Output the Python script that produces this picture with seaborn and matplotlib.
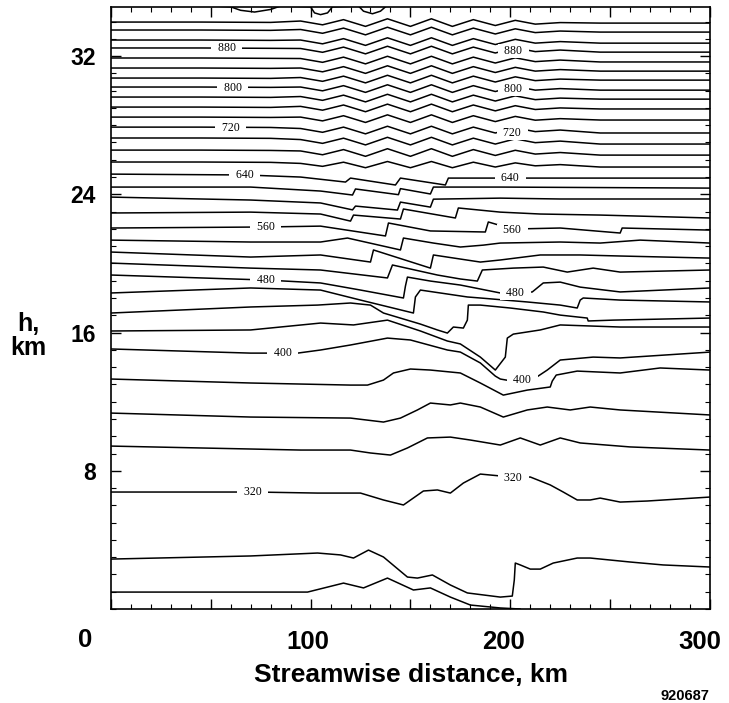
# -*- coding: utf-8 -*-
"""
Isentropes over a streamwise cross-section (potential temperature contours, K)
"""

import pandas as pd
import seaborn as sns
import matplotlib.pyplot as plt
import matplotlib.transforms as mtransforms
from matplotlib.ticker import MultipleLocator

# -------------------------------------------------------
# STEP 1: Data  (x = streamwise km, h = height km)
# -------------------------------------------------------

# shared x points of the wavy upper isentropes
x_upper = [0, 45, 80, 95, 106, 116.5, 127.5, 138.5, 150, 160.5, 171, 181.5,
           192.5, 202.5, 212.5, 225, 245, 300]

h_940 = [33.97, 33.97, 33.95, 34.03, 33.81, 34.11, 33.72, 34.16, 33.72, 34.16, 33.72, 34.11, 33.77, 34.07, 33.85, 33.94, 33.91, 33.91]
h_920 = [33.51, 33.51, 33.49, 33.54, 33.32, 33.62, 33.23, 33.67, 33.23, 33.67, 33.23, 33.62, 33.28, 33.58, 33.36, 33.45, 33.39, 33.39]
h_900 = [32.93, 32.93, 32.91, 32.93, 32.71, 33.01, 32.62, 33.06, 32.62, 33.06, 32.62, 33.01, 32.67, 32.97, 32.75, 32.84, 32.75, 32.75]
h_880 = [32.47, 32.47, 32.45, 32.44, 32.22, 32.52, 32.13, 32.57, 32.13, 32.57, 32.13, 32.52, 32.18, 32.48, 32.26, 32.35, 32.23, 32.23]
h_860 = [31.89, 31.89, 31.87, 31.86, 31.64, 31.94, 31.55, 31.99, 31.55, 31.99, 31.55, 31.94, 31.60, 31.90, 31.68, 31.77, 31.66, 31.66]
h_840 = [31.31, 31.31, 31.29, 31.31, 31.09, 31.39, 31.00, 31.44, 31.00, 31.44, 31.00, 31.39, 31.05, 31.35, 31.13, 31.22, 31.13, 31.13]
h_820 = [30.73, 30.73, 30.71, 30.76, 30.54, 30.84, 30.45, 30.89, 30.45, 30.89, 30.45, 30.84, 30.50, 30.80, 30.58, 30.67, 30.61, 30.61]
h_800 = [30.21, 30.21, 30.19, 30.21, 29.99, 30.29, 29.90, 30.34, 29.90, 30.34, 29.90, 30.29, 29.95, 30.25, 30.03, 30.12, 30.03, 30.03]
h_780 = [29.63, 29.63, 29.61, 29.66, 29.44, 29.74, 29.35, 29.79, 29.35, 29.79, 29.35, 29.74, 29.40, 29.70, 29.48, 29.57, 29.51, 29.51]
h_760 = [29.05, 29.05, 29.03, 29.09, 28.87, 29.17, 28.78, 29.22, 28.78, 29.22, 28.78, 29.17, 28.83, 29.13, 28.91, 29.00, 28.94, 28.94]
h_740 = [28.47, 28.47, 28.45, 28.47, 28.25, 28.55, 28.16, 28.60, 28.16, 28.60, 28.16, 28.55, 28.21, 28.51, 28.29, 28.38, 28.30, 28.30]
h_720 = [27.89, 27.89, 27.87, 27.81, 27.59, 27.89, 27.50, 27.94, 27.50, 27.94, 27.50, 27.89, 27.55, 27.85, 27.63, 27.72, 27.55, 27.55]
h_700 = [27.26, 27.26, 27.24, 27.17, 26.95, 27.25, 26.86, 27.30, 26.86, 27.30, 26.86, 27.25, 26.91, 27.21, 26.99, 27.08, 26.91, 26.91]
h_680 = [26.56, 26.56, 26.54, 26.51, 26.29, 26.59, 26.20, 26.64, 26.20, 26.64, 26.20, 26.59, 26.25, 26.55, 26.33, 26.42, 26.27, 26.27]
h_660 = [25.87, 25.87, 25.85, 25.79, 25.62, 25.86, 25.54, 25.90, 25.54, 25.90, 25.54, 25.86, 25.58, 25.82, 25.65, 25.72, 25.58, 25.58]

# top isentrope, only its troughs dip into the frame
x_960 = [0, 60, 65, 72, 80, 85, 100, 102, 105, 108.5, 111, 124, 126.5, 131, 135, 138, 300]
h_960 = [35.2, 34.85, 34.65, 34.55, 34.7, 34.9, 34.85, 34.5, 34.4, 34.5, 34.85, 34.9, 34.6, 34.45, 34.6, 34.9, 35.2]

# stepped / overturning isentropes
x_640 = [0, 67.5, 95, 117.5, 120, 142.5, 145, 167.5, 169, 200, 300]
h_640 = [25.17, 25.12, 25.00, 24.71, 24.94, 24.54, 24.94, 24.54, 24.94, 24.94, 24.94]

x_620 = [0, 70, 105, 121, 122.5, 144, 145, 160, 161.5, 195, 300]
h_620 = [24.42, 24.42, 24.19, 23.96, 24.31, 23.98, 24.33, 24.02, 24.42, 24.42, 24.36]

x_600 = [0, 70, 105, 121, 122.5, 143.5, 145, 160, 161.5, 195, 225, 300]
h_600 = [23.84, 23.67, 23.50, 23.10, 23.32, 23.09, 23.55, 23.26, 23.72, 23.78, 23.73, 23.73]

x_580 = [0, 70, 105, 120, 121.5, 145, 146.5, 172.5, 174, 195, 215, 245, 300]
h_580 = [22.92, 22.97, 22.86, 22.45, 22.80, 22.57, 23.15, 22.63, 23.21, 22.97, 22.86, 22.80, 22.63]

x_560 = [0, 77.5, 105, 137.5, 139, 160, 187.5, 189, 201, 225, 255, 256, 300]
h_560 = [22.05, 22.11, 22.16, 21.59, 22.34, 21.88, 21.82, 22.40, 21.99, 22.05, 21.76, 22.05, 21.93]

x_540 = [0, 70, 105, 118.5, 145, 146.5, 161.5, 175, 186.5, 195, 225, 245, 265, 300]
h_540 = [21.35, 21.24, 21.24, 21.47, 20.78, 21.47, 21.18, 20.95, 21.06, 21.18, 21.24, 21.18, 21.35, 21.18]

x_520 = [0, 70, 105, 130, 131.5, 160, 161.5, 185, 195, 215, 235, 255, 300]
h_520 = [20.66, 20.37, 20.49, 20.08, 20.78, 19.73, 20.49, 20.08, 20.20, 20.49, 20.49, 20.43, 20.31]

x_500 = [0, 70, 105, 138.5, 141, 163.5, 175, 183.5, 186, 201.5, 216.5, 228.5, 241.5, 255, 300]
h_500 = [20.02, 19.73, 19.62, 19.16, 19.91, 19.33, 19.10, 18.98, 19.62, 19.73, 19.79, 19.50, 19.73, 19.50, 19.62]

x_480 = [0, 77.5, 105, 125, 146.5, 147.5, 148.5, 160, 175, 185, 195, 202.5, 211, 216.5, 225, 235, 255, 300]
h_480 = [19.33, 19.04, 18.87, 18.46, 18.00, 18.69, 19.21, 18.98, 18.75, 18.52, 18.29, 18.29, 18.35, 18.87, 18.92, 18.63, 18.35, 18.58]

x_460 = [0, 70, 105, 125, 151.5, 152.5, 155, 178.5, 185, 208.5, 225, 233.5, 235, 236.5, 255, 300]
h_460 = [18.29, 18.58, 18.46, 17.88, 17.13, 18.06, 18.46, 18.06, 18.00, 17.77, 17.59, 17.42, 17.88, 18.00, 17.88, 17.77]

x_440 = [0, 70, 103.5, 120, 130, 136.5, 155, 163.5, 168.5, 171.5, 176.5, 178.5, 179, 185, 200, 216.5, 225, 238.5, 239, 251.5, 300]
h_440 = [17.13, 17.48, 17.59, 17.71, 17.59, 17.13, 16.49, 16.15, 15.97, 16.32, 16.26, 16.72, 17.59, 17.59, 17.42, 17.19, 17.01, 16.84, 16.67, 16.72, 16.84]

x_420 = [0, 70, 105, 121.5, 138.5, 155, 168.5, 175, 185, 192.5, 197.5, 198.5, 201.5, 215, 225, 255, 300]
h_420 = [16.09, 16.15, 16.55, 16.44, 16.72, 16.09, 15.51, 15.34, 14.58, 13.83, 14.58, 15.68, 15.91, 16.15, 16.44, 16.32, 16.32]

x_400 = [0, 70, 93.5, 105, 120, 138.5, 150, 168.5, 175, 185, 192.5, 195, 201, 212.5, 218.5, 225, 241.5, 255, 300]
h_400 = [15.05, 14.81, 14.81, 14.99, 15.28, 15.68, 15.57, 14.99, 14.87, 14.24, 13.48, 13.31, 13.19, 13.37, 13.83, 14.41, 14.58, 14.53, 14.87]

x_380 = [0, 70, 120, 128.5, 136.5, 141.5, 150, 160, 175, 185, 196.5, 208.5, 220, 221, 223, 233.5, 255, 275, 300]
h_380 = [13.31, 13.08, 12.96, 12.96, 13.25, 13.66, 13.89, 13.83, 13.66, 13.08, 12.38, 12.67, 12.85, 13.19, 13.54, 13.77, 13.66, 13.95, 13.83]

x_360 = [0, 70, 120, 136.5, 145, 153.5, 160, 170, 175, 185, 196.5, 208.5, 218.5, 230, 240, 255, 300]
h_360 = [11.34, 11.11, 11.05, 10.82, 11.05, 11.52, 11.92, 11.81, 11.92, 11.69, 11.11, 11.52, 11.69, 11.52, 11.69, 11.52, 11.23]

x_340 = [0, 45, 95, 120, 130, 140, 148.5, 158.5, 170, 180, 195, 205, 215, 225, 235, 260, 300]
h_340 = [9.43, 9.32, 9.20, 9.20, 9.03, 8.91, 9.32, 9.90, 9.95, 9.78, 9.49, 9.90, 9.49, 9.90, 9.61, 9.38, 9.20]

x_320 = [0, 72.5, 103.5, 125, 136.5, 146.5, 156.5, 163.5, 170, 176.5, 185, 195, 201.5, 210, 220,
         226.5, 233.5, 240, 245, 255, 268.5, 285, 300]
h_320 = [6.77, 6.77, 6.71, 6.71, 6.31, 6.02, 6.83, 6.89, 6.71, 7.29, 7.81, 7.70, 7.58, 7.64, 7.18,
         6.77, 6.31, 6.31, 6.42, 6.19, 6.25, 6.37, 6.48]

x_300 = [0, 70, 103.5, 115, 121.5, 129, 136.5, 148.5, 153.5, 161, 170, 178.5, 195, 201, 202, 202.5,
         205, 210, 215, 221.5, 233.5, 240, 260, 276.5, 300]
h_300 = [2.89, 3.07, 3.24, 3.13, 2.95, 3.41, 3.01, 1.85, 1.79, 1.97, 1.39, 0.93, 0.69, 0.75, 1.68, 2.66,
         2.55, 2.31, 2.31, 2.66, 2.95, 2.95, 2.72, 2.55, 2.43]

x_280 = [0, 98.5, 116.5, 126.5, 138.5, 151.5, 160, 170, 180, 195, 205]
h_280 = [0.98, 0.98, 1.50, 1.22, 1.79, 1.10, 1.22, 0.69, 0.23, 0.06, 0.0]

# inline contour labels
label_levels = [880, 800, 720, 640, 560, 480, 400, 320]
label_x_left = [58, 61, 60, 67, 77.5, 77.5, 86, 71]
label_h_left = [32.47, 30.15, 27.86, 25.12, 22.11, 19.04, 14.79, 6.77]
label_x_right = [201.5, 201.5, 201, 200, 201, 202.5, 206, 201.5]
label_h_right = [32.29, 30.09, 27.55, 24.94, 21.93, 18.29, 13.25, 7.58]

# -------------------------------------------------------
# STEP 2: Long table for seaborn
# -------------------------------------------------------

isentropes = [
    (960, x_960, h_960), (940, x_upper, h_940), (920, x_upper, h_920),
    (900, x_upper, h_900), (880, x_upper, h_880), (860, x_upper, h_860),
    (840, x_upper, h_840), (820, x_upper, h_820), (800, x_upper, h_800),
    (780, x_upper, h_780), (760, x_upper, h_760), (740, x_upper, h_740),
    (720, x_upper, h_720), (700, x_upper, h_700), (680, x_upper, h_680),
    (660, x_upper, h_660), (640, x_640, h_640), (620, x_620, h_620),
    (600, x_600, h_600), (580, x_580, h_580), (560, x_560, h_560),
    (540, x_540, h_540), (520, x_520, h_520), (500, x_500, h_500),
    (480, x_480, h_480), (460, x_460, h_460), (440, x_440, h_440),
    (420, x_420, h_420), (400, x_400, h_400), (380, x_380, h_380),
    (360, x_360, h_360), (340, x_340, h_340), (320, x_320, h_320),
    (300, x_300, h_300), (280, x_280, h_280),
]

rows = []
for level, xs, hs in isentropes:
    for x, h in zip(xs, hs):
        rows.append((level, x, h))
df = pd.DataFrame(rows, columns=["theta", "x", "h"])

# -------------------------------------------------------
# STEP 3: Plot
# -------------------------------------------------------

sns.set_style("ticks")
plt.rcParams["font.family"] = ["Liberation Sans", "DejaVu Sans"]
plt.rcParams["text.color"] = "black"
plt.rcParams["xtick.color"] = "black"
plt.rcParams["ytick.color"] = "black"

fig = plt.figure(figsize=(7.29, 7.03), dpi=100)
ax = fig.add_axes([0.152, 0.1337, 0.822, 0.8563])

sns.lineplot(data=df, x="x", y="h", units="theta", estimator=None, sort=False,
             color="black", linewidth=1.1, legend=False, ax=ax,
             solid_joinstyle="round", solid_capstyle="round")

# contour labels with a white gap in the line
for lev, xl, hl, xr, hr in zip(label_levels, label_x_left, label_h_left,
                               label_x_right, label_h_right):
    for xx, hh in ((xl, hl), (xr, hr)):
        ax.text(xx, hh, f"  {lev}  ", fontsize=8.5, family="Liberation Serif",
                color="black", ha="center", va="center", zorder=5,
                bbox=dict(boxstyle="square,pad=0.05", fc="white", ec="none"))

ax.set_xlim(0, 300)
ax.set_ylim(0, 34.84)

ax.set_xticks([0, 50, 100, 150, 200, 250, 300])
ax.set_xticklabels(["", "", "100", "", "200", "", "300"])
ax.xaxis.set_minor_locator(MultipleLocator(10))
ax.set_yticks([8, 16, 24, 32])
ax.set_yticklabels(["8", "16", "24", "32"])
ax.yaxis.set_minor_locator(MultipleLocator(1))

ax.tick_params(which="both", direction="in", top=True, right=True,
               color="black", labelcolor="black")
ax.tick_params(which="major", length=7, width=1.0)
ax.tick_params(which="minor", length=3.5, width=0.8)
ax.tick_params(axis="x", which="major", labelsize=18.5, pad=15)
ax.tick_params(axis="y", which="major", labelsize=16.5, pad=11)
for lab in ax.get_xticklabels() + ax.get_yticklabels():
    lab.set_fontweight("bold")

# the printed labels sit a little left of their ticks
major_ticks = ax.xaxis.get_major_ticks()
for idx, dx_px in ((2, -3), (4, -7), (6, -10)):
    lab = major_ticks[idx].label1
    lab.set_transform(lab.get_transform()
                      + mtransforms.ScaledTranslation(dx_px / 100, 0, fig.dpi_scale_trans))

for sp in ax.spines.values():
    sp.set_linewidth(1.2)
    sp.set_color("black")

ax.set_xlabel("")
ax.set_ylabel("")

# --- axis texts ---
fig.text(85 / 729, 1 - 647 / 703, "0", fontsize=18.5, fontweight="bold",
         color="black", ha="center", va="baseline")
fig.text(411 / 729, 1 - 682 / 703, "Streamwise distance, km", fontsize=19,
         fontweight="bold", color="black", ha="center", va="baseline")
fig.text(28 / 729, 1 - 336 / 703, "h,\nkm", fontsize=18, fontweight="bold",
         color="black", ha="center", va="center", linespacing=0.95)
fig.text(685 / 729, 1 - 700 / 703, "920687", fontsize=10.5, fontweight="bold",
         color="black", ha="center", va="baseline")

plt.savefig("out.png", dpi=100)
print("Plot saved as: out.png")
